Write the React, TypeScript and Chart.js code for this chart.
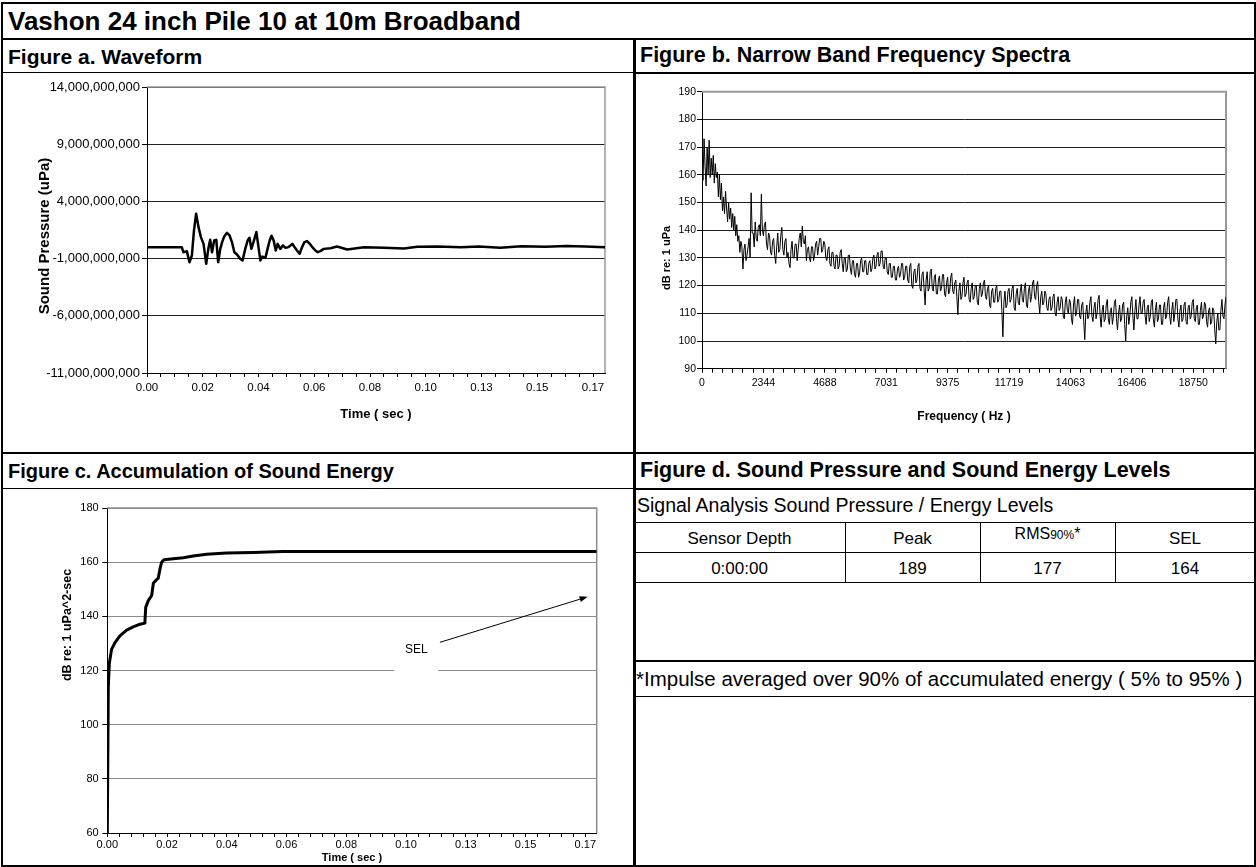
import React, { useEffect, useRef } from 'react';
import { Chart, registerables } from 'chart.js';

Chart.register(...registerables);

const FONT = "Arial, 'Liberation Sans', Helvetica, sans-serif";

// ---------- Figure a: waveform ----------
const WAVE_T = [
  0, 0.0131, 0.0137, 0.015, 0.016, 0.0169, 0.0177, 0.0185, 0.0194, 0.0203,
  0.0213, 0.0223, 0.0232, 0.0238, 0.0245, 0.0253, 0.0261, 0.0268, 0.0276, 0.0283,
  0.0291, 0.0301, 0.0311, 0.032, 0.0329, 0.0339, 0.0351, 0.036, 0.037, 0.0379,
  0.0386, 0.0393, 0.0401, 0.0412, 0.0419, 0.0427, 0.0434, 0.0446, 0.0454, 0.0462,
  0.0469, 0.0477, 0.0485, 0.0492, 0.0502, 0.0512, 0.0522, 0.0532, 0.054, 0.0547,
  0.0556, 0.0565, 0.0575, 0.0584, 0.0593, 0.0603, 0.0613, 0.0623, 0.0634, 0.0643,
  0.0653, 0.0666, 0.0691, 0.0716, 0.0754, 0.0817, 0.0892, 0.0968, 0.1018, 0.1094,
  0.1182, 0.125, 0.133, 0.141, 0.15, 0.158, 0.165, 0.1725,
];
const WAVE_UPA = [
  0, 0, -0.44e9, -0.35e9, -1.32e9, -0.73e9, 1.46e9, 2.93e9, 1.75e9, 0.88e9,
  0.29e9, -1.46e9, 0, 0.64e9, -0.44e9, 0.58e9, 0.64e9, -1.32e9, -0.15e9, 0.44e9,
  0.94e9, 1.26e9, 1.02e9, 0.44e9, -0.44e9, -0.64e9, -1.02e9, -1.17e9, -0.15e9, 0.58e9,
  0.82e9, -0.15e9, 0.44e9, 1.32e9, 0.15e9, -1.17e9, -0.82e9, -0.94e9, -0.15e9, 0.58e9,
  1.0e9, 0.58e9, -0.29e9, 0.29e9, -0.15e9, 0.15e9, -0.06e9, 0, 0.15e9, 0.29e9,
  0, -0.29e9, -0.58e9, 0, 0.44e9, 0.53e9, 0.29e9, 0, -0.29e9, -0.44e9,
  -0.35e9, -0.15e9, -0.09e9, 0.06e9, -0.2e9, 0, -0.06e9, -0.12e9, 0.03e9, 0.06e9,
  0, 0.05e9, -0.05e9, 0.08e9, 0.03e9, 0.1e9, 0.05e9, 0,
];
const WAVE_Y_TICKS = [-11e9, -6e9, -1e9, 4e9, 9e9, 14e9];
const TIME_TICK_LABELS = ['0.00', '0.02', '0.04', '0.06', '0.08', '0.10', '0.13', '0.15', '0.17'];
const TIME_LABEL_STEP = 0.021;
const WAVE_T_MAX = 0.1725;

// ---------- Figure b: narrow band spectrum (bin width 39.0625 Hz) ----------
const SPEC_BIN_HZ = 39.0625;
const SPEC_DB = [
  166, 158, 173, 163, 156, 170, 160, 172.5, 159, 166,
  160, 167, 157, 164, 159, 161, 152, 160, 151, 157,
  147, 152, 146, 154, 148, 143, 150, 144, 148, 141,
  146, 140, 145, 138, 142, 136, 138, 132, 136, 134,
  126, 133, 135, 129, 131, 134, 137, 130, 153.5, 139,
  139, 134, 143, 137, 136, 141, 142, 138, 153, 140,
  138, 142, 143, 135, 133, 139, 138, 132, 131, 136,
  137, 131, 128, 134, 139, 132, 133, 138, 141, 133,
  131, 136, 137, 130, 132, 128, 126.5, 133, 136, 130,
  130, 135, 135, 129, 133, 137, 139, 134, 141.5, 136,
  135, 138, 129, 133, 134, 130, 128.5, 134, 134, 129,
  131, 135, 136, 131, 134, 137, 137, 132, 133, 136,
  135, 130, 129, 133, 134, 128, 127, 132, 132, 127,
  126, 131, 131, 126, 127, 132, 133, 128, 125, 130,
  130, 125, 126, 131, 131, 126, 124, 129, 129, 124,
  123, 128, 128, 123, 124.5, 129, 130, 125, 125, 129,
  129, 124, 124, 128, 129, 125, 126, 130, 131, 126,
  127, 131, 132, 127, 128, 132.5, 132.5, 127, 126, 130,
  130, 125, 124, 128, 128, 123, 123, 127, 127, 122,
  122, 126, 127, 123, 124, 128, 128, 122, 123, 127,
  127, 122, 121, 127, 128, 120, 119, 125, 126, 121,
  122, 127, 128, 119, 118, 124, 125, 119, 113, 122,
  125, 118, 119, 125, 126, 119, 118, 123, 124, 117,
  117, 122, 123.5, 118, 119, 124, 124, 117, 116, 121,
  123, 117, 118, 123, 124.5, 118, 117, 121, 122, 116,
  109.5, 118, 121, 115, 116, 121, 123, 116, 117, 121,
  122, 115, 114, 119, 121, 115, 116, 120, 120, 114,
  113, 119, 121, 116, 117, 121, 122, 116, 115, 119,
  120, 113, 112, 118, 119, 114, 114, 119, 120, 114,
  115, 118, 118, 111, 101.5, 114, 118, 112, 113, 118,
  119, 114, 115, 119, 120, 112, 111, 117, 119, 114,
  113, 118, 120.5, 115, 114, 119, 121, 113, 112, 118,
  120, 114, 116, 121, 122, 116, 115, 120, 121.5, 114,
  110, 116, 118, 113, 114, 118, 117, 112, 111, 115,
  116, 111, 112, 116, 117, 110, 109, 114, 116, 111,
  112, 116, 115, 109, 108, 114, 116, 111, 110, 115,
  114, 108, 106, 113, 116, 109, 110, 115, 115, 109,
  108, 113, 114, 107, 100.5, 110, 113, 108, 109, 114,
  116, 109, 107, 112, 114, 108, 110, 115, 116.5, 109,
  105, 111, 113, 107, 108, 113, 115, 108, 106, 111,
  112, 106, 109, 114, 115, 108, 104, 110, 113, 107,
  108, 113, 114, 106, 100, 109, 112, 106, 109, 114,
  116, 109, 104, 111, 115, 108, 108, 113, 116, 110,
  110, 114, 115, 109, 106, 112, 113, 107, 109, 114,
  115, 108, 105, 111, 114, 107, 108, 113, 113, 106,
  106, 112, 114, 108, 109, 114, 116, 109, 106, 111,
  114, 107, 110, 115, 115, 108, 105, 111, 113, 107,
  108, 113, 114, 107, 106, 112, 113, 108, 109, 114,
  115, 108, 107, 112, 113, 106, 106, 111, 114, 108,
  109, 114, 113, 107, 105, 111, 112, 106, 107, 112,
  111, 104, 99, 107, 110, 104, 104, 111, 115, 109,
  108, 113, 116,
];
const SPEC_Y_TICKS = [90, 100, 110, 120, 130, 140, 150, 160, 170, 180, 190];
const FREQ_TICK_LABELS = ['0', '2344', '4688', '7031', '9375', '11719', '14063', '16406', '18750'];
const FREQ_LABEL_STEP = 2343.75;
const FREQ_MAX = 20000;

// ---------- Figure c: accumulated energy ----------
const ACC_T = [
  0, 0.00035, 0.0007, 0.0015, 0.0027, 0.0045, 0.0068, 0.0091, 0.0115, 0.0132,
  0.0135, 0.0144, 0.0156, 0.0162, 0.0173, 0.0179, 0.0185, 0.0191, 0.0199, 0.0232,
  0.0267, 0.0302, 0.0349, 0.0419, 0.0513, 0.0618, 0.172,
];
const ACC_DB = [
  60, 113.6, 122.6, 127.8, 130.3, 132.9, 134.9, 136.1, 137.1, 137.5,
  143.3, 145.8, 147.7, 152.3, 153.5, 154.1, 157.4, 160, 160.9, 161.3,
  161.6, 162.3, 162.9, 163.4, 163.6, 163.9, 163.9,
];
const ACC_Y_TICKS = [60, 80, 100, 120, 140, 160, 180];
const ACC_T_MAX = 0.172;
const SEL_NOTE = { t: 0.1086, db: 127.6, text: 'SEL' };
const SEL_ARROW_FROM = { t: 0.1169, db: 130.4 };
const SEL_ARROW_TO = { t: 0.1688, db: 147.2 };

// ---------- Figure d: table ----------
const TABLE_CAPTION = 'Signal Analysis Sound Pressure / Energy Levels';
const TABLE_ROW = ['0:00:00', '189', '177', '164'];
const FOOTNOTE = '*Impulse averaged over 90% of accumulated energy ( 5% to 95% )';

const zip = (xs: number[], ys: number[]) => xs.map((x, i) => ({ x, y: ys[i] }));

function xAxis(o: {
  max: number; step: number; labels: string[]; minor: number; size: number; pad: number;
  title: string; titleSize: number; titlePad: number; height: number;
}) {
  return {
    type: 'linear', min: 0, max: o.max,
    afterBuildTicks: (s: any) => {
      const out: any[] = [];
      const st = o.step / o.minor;
      for (let i = 0; i * st <= o.max + 1e-9; i++) out.push({ value: i * st });
      s.ticks = out;
    },
    afterFit: (s: any) => { s.height = o.height; },
    ticks: {
      autoSkip: false, maxRotation: 0, minRotation: 0, padding: o.pad, color: '#000',
      font: { size: o.size, family: FONT },
      callback: (_v: any, i: number) => (i % o.minor === 0 ? (o.labels[i / o.minor] ?? '') : ''),
    },
    grid: { drawOnChartArea: false, drawTicks: true, tickLength: 4, tickColor: '#000', color: '#000' },
    border: { display: true, color: '#000', width: 1 },
    title: {
      display: true, text: o.title, color: '#000',
      font: { size: o.titleSize, weight: 'bold', family: FONT },
      padding: { top: 0, bottom: o.titlePad },
    },
  };
}

function yAxis(o: { ticks: number[]; width: number; size: number; pad: number; grid: string; fmt: (v: number) => string }) {
  return {
    type: 'linear', min: o.ticks[0], max: o.ticks[o.ticks.length - 1],
    afterBuildTicks: (s: any) => { s.ticks = o.ticks.map((v) => ({ value: v })); },
    afterFit: (s: any) => { s.width = o.width; },
    ticks: { padding: o.pad, color: '#000', font: { size: o.size, family: FONT }, callback: (v: any) => o.fmt(Number(v)) },
    grid: { color: o.grid, lineWidth: 1, drawTicks: true, tickLength: 5, tickColor: '#000' },
    border: { display: true, color: '#000', width: 1 },
    title: { display: false },
  };
}

const plotFrame = (color: string, width: number) => ({
  id: 'plotFrame',
  beforeDatasetsDraw(chart: any) {
    const { ctx, chartArea: a } = chart;
    ctx.save();
    ctx.strokeStyle = color;
    ctx.lineWidth = width;
    ctx.beginPath();
    ctx.moveTo(a.left, a.top);
    ctx.lineTo(a.right, a.top);
    ctx.lineTo(a.right, a.bottom);
    ctx.stroke();
    ctx.restore();
  },
});

// vertical (rotated) axis title placed at a fixed spot of the canvas
const yTitle = (text: string, cx: number, cy: number, size: number) => ({
  id: 'yTitle',
  afterDraw(chart: any) {
    const { ctx } = chart;
    ctx.save();
    ctx.translate(cx, cy);
    ctx.rotate(-Math.PI / 2);
    ctx.fillStyle = '#000';
    ctx.font = `bold ${size}px ${FONT}`;
    ctx.textAlign = 'center';
    ctx.textBaseline = 'middle';
    ctx.fillText(text, 0, 0);
    ctx.restore();
  },
});

const selNote = {
  id: 'selNote',
  beforeDatasetsDraw(chart: any) {
    const { ctx } = chart;
    const xs = chart.scales.x;
    const ys = chart.scales.y;
    const tx = xs.getPixelForValue(SEL_NOTE.t);
    const ty = ys.getPixelForValue(SEL_NOTE.db);
    ctx.save();
    ctx.fillStyle = '#fff';
    ctx.fillRect(tx - 22, ty - 14, 44, 38);
    ctx.fillStyle = '#000';
    ctx.font = `12px ${FONT}`;
    ctx.textAlign = 'center';
    ctx.textBaseline = 'middle';
    ctx.fillText(SEL_NOTE.text, tx, ty);
    const x0 = xs.getPixelForValue(SEL_ARROW_FROM.t);
    const y0 = ys.getPixelForValue(SEL_ARROW_FROM.db);
    const x1 = xs.getPixelForValue(SEL_ARROW_TO.t);
    const y1 = ys.getPixelForValue(SEL_ARROW_TO.db);
    const ang = Math.atan2(y1 - y0, x1 - x0);
    ctx.strokeStyle = '#000';
    ctx.lineWidth = 1;
    ctx.beginPath();
    ctx.moveTo(x0, y0);
    ctx.lineTo(x1 - 6 * Math.cos(ang), y1 - 6 * Math.sin(ang));
    ctx.stroke();
    ctx.beginPath();
    ctx.moveTo(x1, y1);
    ctx.lineTo(x1 - 8 * Math.cos(ang) + 3 * Math.sin(ang), y1 - 8 * Math.sin(ang) - 3 * Math.cos(ang));
    ctx.lineTo(x1 - 8 * Math.cos(ang) - 3 * Math.sin(ang), y1 - 8 * Math.sin(ang) + 3 * Math.cos(ang));
    ctx.closePath();
    ctx.fill();
    ctx.restore();
  },
};

const baseOpts = {
  responsive: false,
  maintainAspectRatio: false,
  animation: false,
  plugins: { legend: { display: false }, tooltip: { enabled: false }, title: { display: false } },
  elements: { point: { radius: 0 } },
};

function Line(p: { x: number; y: number; w: number; h: number; c?: string }) {
  return <div style={{ position: 'absolute', left: p.x, top: p.y, width: p.w, height: p.h, background: p.c ?? '#000' }} />;
}

function Txt(p: { x: number; y: number; w?: number; h: number; size: number; bold?: boolean; center?: boolean; children: any }) {
  return (
    <div
      style={{
        position: 'absolute', left: p.x, top: p.y, width: p.w, height: p.h, display: 'flex',
        alignItems: 'center', justifyContent: p.center ? 'center' : 'flex-start',
        fontSize: p.size, fontWeight: p.bold ? 700 : 400, whiteSpace: 'nowrap', lineHeight: 1, color: '#000',
      }}
    >
      {p.children}
    </div>
  );
}

export default function App() {
  const aRef = useRef<HTMLCanvasElement>(null);
  const bRef = useRef<HTMLCanvasElement>(null);
  const cRef = useRef<HTMLCanvasElement>(null);

  useEffect(() => {
    Chart.defaults.font.family = FONT;
    Chart.defaults.color = '#000';
    const charts: Chart[] = [];

    // canvas A at page (12,74) 621x378; plot x 147..605, y 87..373
    charts.push(new Chart(aRef.current!, {
      type: 'line',
      data: { datasets: [{ data: zip(WAVE_T, WAVE_UPA), borderColor: '#000', borderWidth: 2.5, borderJoinStyle: 'round', pointRadius: 0, tension: 0 }] },
      options: {
        ...baseOpts,
        layout: { padding: { left: 0, top: 13, right: 28, bottom: 0 } },
        scales: {
          x: xAxis({ max: WAVE_T_MAX, step: TIME_LABEL_STEP, labels: TIME_TICK_LABELS, minor: 4, size: 11.5, pad: 4, title: 'Time ( sec )', titleSize: 13, titlePad: 30, height: 79 }),
          y: yAxis({ ticks: WAVE_Y_TICKS, width: 135, size: 13, pad: 2, grid: '#222', fmt: (v) => v.toLocaleString('en-US') }),
        },
      } as any,
      plugins: [plotFrame('#999', 1.5), yTitle('Sound Pressure (uPa)', 33, 162, 15)],
    }));

    // canvas B at page (636,74) 618x378; plot x 702..1226, y 91.7..368.7
    charts.push(new Chart(bRef.current!, {
      type: 'line',
      data: { datasets: [{ data: zip(SPEC_DB.map((_, i) => i * SPEC_BIN_HZ), SPEC_DB), borderColor: '#000', borderWidth: 1, pointRadius: 0, tension: 0 }] },
      options: {
        ...baseOpts,
        layout: { padding: { left: 0, top: 17.7, right: 28, bottom: 0 } },
        scales: {
          x: xAxis({ max: FREQ_MAX, step: FREQ_LABEL_STEP, labels: FREQ_TICK_LABELS, minor: 6, size: 10.5, pad: 4, title: 'Frequency ( Hz )', titleSize: 12, titlePad: 28, height: 83.3 }),
          y: yAxis({ ticks: SPEC_Y_TICKS, width: 66, size: 10.5, pad: 1, grid: '#222', fmt: (v) => String(v) }),
        },
      } as any,
      plugins: [plotFrame('#999', 2), yTitle('dB re: 1 uPa', 31, 184, 11)],
    }));

    // canvas C at page (12,490) 621x375; plot x 107.3..596.7, y 508..833
    charts.push(new Chart(cRef.current!, {
      type: 'line',
      data: { datasets: [{ data: zip(ACC_T, ACC_DB), borderColor: '#000', borderWidth: 3, borderJoinStyle: 'round', pointRadius: 0, tension: 0 }] },
      options: {
        ...baseOpts,
        layout: { padding: { left: 0, top: 18, right: 36.3, bottom: 0 } },
        scales: {
          x: xAxis({ max: ACC_T_MAX, step: TIME_LABEL_STEP, labels: TIME_TICK_LABELS, minor: 5, size: 11, pad: 1.4, title: 'Time ( sec )', titleSize: 11, titlePad: 0.4, height: 32 }),
          y: yAxis({ ticks: ACC_Y_TICKS, width: 95.3, size: 11, pad: 3.6, grid: '#8c8c8c', fmt: (v) => String(v) }),
        },
      } as any,
      plugins: [plotFrame('#8c8c8c', 1.5), selNote, yTitle('dB re: 1 uPa^2-sec', 56, 135, 12.5)],
    }));

    return () => charts.forEach((c) => c.destroy());
  }, []);

  const colX = [634, 845, 980, 1115, 1255];

  return (
    <div style={{ position: 'absolute', left: 0, top: 0, width: 1256, height: 867, background: '#fff', fontFamily: FONT, overflow: 'hidden' }}>
      {/* outer frame and cell lines */}
      <Line x={1} y={2} w={1255} h={2} />
      <Line x={1} y={865} w={1255} h={2} />
      <Line x={1} y={2} w={2} h={865} />
      <Line x={1254} y={2} w={2} h={865} />
      <Line x={1} y={38} w={1255} h={2} />
      <Line x={1} y={72} w={633} h={1} />
      <Line x={634} y={72} w={622} h={2} />
      <Line x={633} y={39} w={3} h={827} />
      <Line x={1} y={452} w={1255} h={2} />
      <Line x={1} y={488} w={633} h={1} />
      <Line x={634} y={488} w={622} h={2} />
      <Line x={634} y={522} w={622} h={1} />
      <Line x={634} y={552} w={622} h={1} />
      <Line x={634} y={582} w={622} h={1} />
      {colX.slice(1, 4).map((x) => <Line key={x} x={x} y={522} w={1} h={61} />)}
      <Line x={634} y={660} w={622} h={2} />
      <Line x={634} y={696} w={622} h={1} />

      {/* texts */}
      <Txt x={8} y={4} h={34} size={26} bold>Vashon 24 inch Pile 10 at 10m Broadband</Txt>
      <Txt x={8} y={40} h={32} size={21} bold>Figure a. Waveform</Txt>
      <Txt x={640} y={40} h={32} size={21.5} bold>Figure b. Narrow Band Frequency Spectra</Txt>
      <Txt x={8} y={454} h={34} size={20} bold>Figure c. Accumulation of Sound Energy</Txt>
      <Txt x={640} y={454} h={34} size={21.5} bold>Figure d. Sound Pressure and Sound Energy Levels</Txt>
      <Txt x={637} y={489} h={33} size={19.5}>{TABLE_CAPTION}</Txt>
      <Txt x={colX[0]} y={523} w={colX[1] - colX[0]} h={30} size={17} center>Sensor Depth</Txt>
      <Txt x={colX[1]} y={523} w={colX[2] - colX[1]} h={30} size={17} center>Peak</Txt>
      <div style={{ position: 'absolute', left: colX[2], top: 526, width: colX[3] - colX[2], textAlign: 'center', fontSize: 16, lineHeight: 1, whiteSpace: 'nowrap' }}>
        RMS<span style={{ fontSize: 12 }}>90%</span>*
      </div>
      <Txt x={colX[3]} y={523} w={colX[4] - colX[3]} h={30} size={17} center>SEL</Txt>
      {TABLE_ROW.map((v, i) => (
        <Txt key={i} x={colX[i]} y={553} w={colX[i + 1] - colX[i]} h={30} size={17} center>{v}</Txt>
      ))}
      <Txt x={636} y={662} h={34} size={20.5}>{FOOTNOTE}</Txt>

      {/* charts */}
      <canvas ref={aRef} width={621} height={378} style={{ position: 'absolute', left: 12, top: 74, width: 621, height: 378 }} />
      <canvas ref={bRef} width={618} height={378} style={{ position: 'absolute', left: 636, top: 74, width: 618, height: 378 }} />
      <canvas ref={cRef} width={621} height={375} style={{ position: 'absolute', left: 12, top: 490, width: 621, height: 375 }} />
    </div>
  );
}
